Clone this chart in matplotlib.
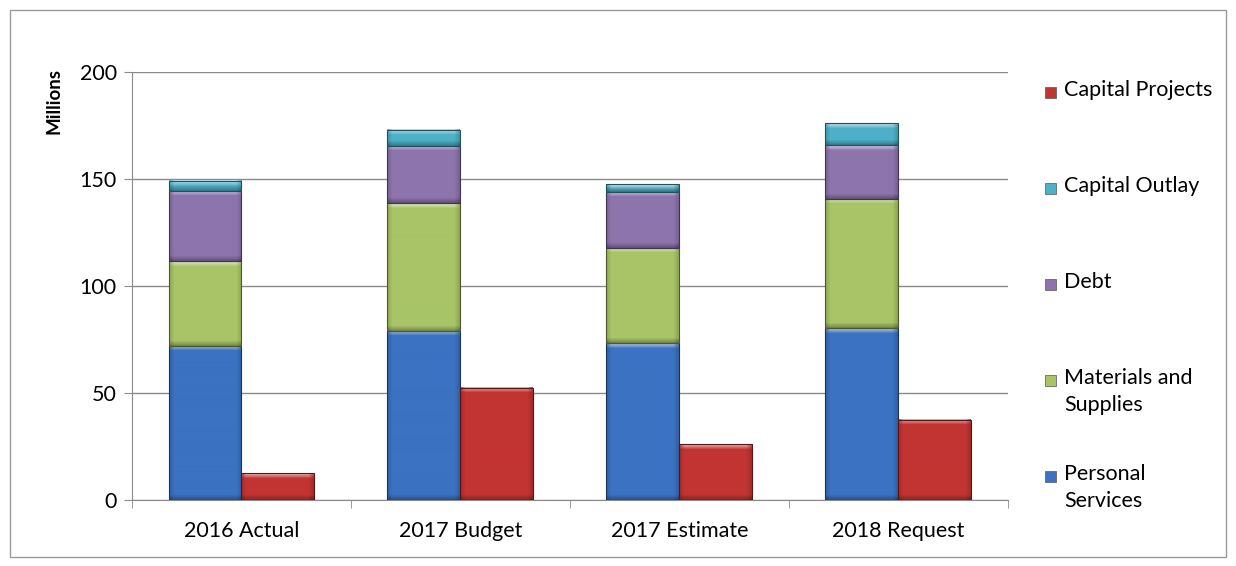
import numpy as np
import matplotlib
matplotlib.use("Agg")
import matplotlib.pyplot as plt
from matplotlib.patches import Rectangle
from matplotlib.colors import to_rgb

years = ["2016 Actual", "2017 Budget", "2017 Estimate", "2018 Request"]
personal_services = [72.0, 79.1, 73.2, 80.2]
materials_supplies = [39.7, 59.5, 44.7, 60.5]
debt = [32.8, 26.8, 26.2, 25.2]
capital_outlay = [4.7, 7.5, 3.4, 10.1]
capital_projects = [12.5, 52.5, 26.0, 37.4]

stack_names = ["Personal\nServices", "Materials and\nSupplies", "Debt", "Capital Outlay"]
stack_values = [personal_services, materials_supplies, debt, capital_outlay]
stack_colors = ["#3b72c1", "#a8c466", "#8e74ad", "#4db1c8"]
projects_color = "#c23432"

plt.rcParams["font.family"] = ["Lato", "DejaVu Sans"]

fig = plt.figure(figsize=(12.36, 5.66), dpi=100)
ax = fig.add_axes([0.1068, 0.1166, 0.7087, 0.7562])
ax.set_xlim(-0.5, len(years) - 0.5)
ax.set_ylim(0, 200)


def bevel_bar(x0, y0, w, h, color):
    # flat bar with a shaded image over it for the bevelled edges
    base = np.array(to_rgb(color))
    (px0, py0), (px1, py1) = ax.transData.transform([(x0, y0), (x0 + w, y0 + h)])
    wp = max(int(round(px1 - px0)), 2)
    hp = max(int(round(py1 - py0)), 2)
    img = np.tile(base, (hp, wp, 1))
    rows = np.arange(hp)[:, None] * np.ones((1, wp))
    cols = np.ones((hp, 1)) * np.arange(wp)[None, :]
    band = 5.0
    top = np.clip(1 - rows / band, 0, 1)
    bottom = np.clip(1 - (hp - 1 - rows) / band, 0, 1)
    side = np.clip(1 - np.minimum(cols, wp - 1 - cols) / band, 0, 1)
    light = 0.6 * top * (1 - 0.6 * side)
    dark = 0.28 * bottom + 0.15 * side
    img = img + (1 - img) * light[..., None]
    img = img * (1 - dark[..., None])
    ax.imshow(np.clip(img, 0, 1), extent=(x0, x0 + w, y0, y0 + h),
              origin="upper", aspect="auto", interpolation="bilinear", zorder=3.5)
    ax.add_patch(Rectangle((x0, y0), w, h, facecolor="none",
                           edgecolor=base * 0.45, linewidth=0.8, zorder=4))


bar_w = 1 / 3
x = np.arange(len(years))
bottoms = np.zeros(len(years))
for vals, col in zip(stack_values, stack_colors):
    for i in range(len(years)):
        bevel_bar(x[i] - bar_w, bottoms[i], bar_w, vals[i], col)
    bottoms += np.array(vals)
for i in range(len(years)):
    bevel_bar(x[i], 0, bar_w, capital_projects[i], projects_color)

ax.set_xlim(-0.5, len(years) - 0.5)
ax.set_ylim(0, 200)

# axes and gridlines
ax.set_yticks([0, 50, 100, 150, 200])
ax.yaxis.grid(True, color="#8a8a8a", linewidth=1.0)
ax.set_axisbelow(True)
for s in ["top", "right"]:
    ax.spines[s].set_visible(False)
ax.spines["left"].set_color("#8a8a8a")
ax.spines["bottom"].set_color("#8a8a8a")
ax.tick_params(axis="y", length=6, color="#8a8a8a", labelsize=15.5, pad=5)
ax.set_xticks(x)
ax.set_xticklabels(years)
ax.set_xticks(np.arange(len(years) + 1) - 0.5, minor=True)
ax.tick_params(axis="x", which="major", length=0, labelsize=15.5, pad=15)
ax.tick_params(axis="x", which="minor", length=6, color="#8a8a8a")

fig.text(54 / 1236, 1 - 101 / 566, "Millions", rotation=90, fontsize=13.5,
         fontweight="bold", ha="center", va="center")

# legend, top to bottom
legend_items = [("Capital Projects", projects_color)] + \
    [(n, c) for n, c in zip(stack_names[::-1], stack_colors[::-1])]
for k, (name, col) in enumerate(legend_items):
    yc = 92 + 96 * k
    fig.add_artist(Rectangle((1045 / 1236, 1 - (yc + 6) / 566), 11 / 1236, 11 / 566,
                             transform=fig.transFigure, facecolor=col,
                             edgecolor="#555555", linewidth=0.5))
    fig.text(1064 / 1236, 1 - (yc - 12) / 566, name, fontsize=15.5,
             ha="left", va="top", linespacing=1.45)

fig.add_artist(Rectangle((10 / 1236, 9 / 566), 1216 / 1236, 547 / 566,
                         transform=fig.transFigure, facecolor="none",
                         edgecolor="#9a9a9a", linewidth=1.0))

fig.savefig("out.png", dpi=100)
